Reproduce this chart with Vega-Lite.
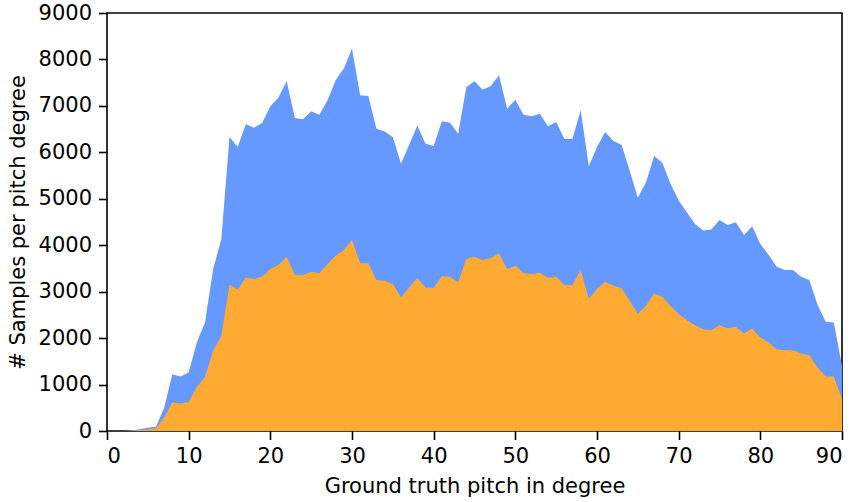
{
  "$schema": "https://vega.github.io/schema/vega-lite/v6.json",
  "autosize": "none",
  "width": 735,
  "height": 418,
  "padding": {"left": 107, "top": 13, "right": 18, "bottom": 71},
  "background": "white",
  "config": {
    "view": {"stroke": "black", "strokeWidth": 1.6},
    "font": "DejaVu Sans",
    "axis": {
      "grid": false,
      "domain": false,
      "tickColor": "black",
      "tickSize": 8.5,
      "tickWidth": 1.6,
      "labelColor": "black",
      "labelFont": "DejaVu Sans",
      "labelFontSize": 21,
      "titleFont": "DejaVu Sans",
      "titleFontSize": 21,
      "titleFontWeight": "normal",
      "titleColor": "black"
    }
  },
  "data": {
    "values": [
      {"pitch": 0, "total": 0, "subset": 0},
      {"pitch": 1, "total": 0, "subset": 0},
      {"pitch": 2, "total": 0, "subset": 0},
      {"pitch": 3, "total": 10, "subset": 5},
      {"pitch": 4, "total": 40, "subset": 15},
      {"pitch": 5, "total": 70, "subset": 30},
      {"pitch": 6, "total": 90, "subset": 60},
      {"pitch": 7, "total": 503, "subset": 288},
      {"pitch": 8, "total": 1222, "subset": 611},
      {"pitch": 9, "total": 1172, "subset": 590},
      {"pitch": 10, "total": 1258, "subset": 626},
      {"pitch": 11, "total": 1906, "subset": 949},
      {"pitch": 12, "total": 2337, "subset": 1165},
      {"pitch": 13, "total": 3488, "subset": 1726},
      {"pitch": 14, "total": 4135, "subset": 2050},
      {"pitch": 15, "total": 6328, "subset": 3150},
      {"pitch": 16, "total": 6113, "subset": 3049},
      {"pitch": 17, "total": 6602, "subset": 3301},
      {"pitch": 18, "total": 6530, "subset": 3272},
      {"pitch": 19, "total": 6630, "subset": 3322},
      {"pitch": 20, "total": 6990, "subset": 3488},
      {"pitch": 21, "total": 7178, "subset": 3574},
      {"pitch": 22, "total": 7537, "subset": 3754},
      {"pitch": 23, "total": 6738, "subset": 3365},
      {"pitch": 24, "total": 6710, "subset": 3358},
      {"pitch": 25, "total": 6883, "subset": 3430},
      {"pitch": 26, "total": 6810, "subset": 3394},
      {"pitch": 27, "total": 7120, "subset": 3596},
      {"pitch": 28, "total": 7550, "subset": 3776},
      {"pitch": 29, "total": 7804, "subset": 3898},
      {"pitch": 30, "total": 8235, "subset": 4113},
      {"pitch": 31, "total": 7228, "subset": 3610},
      {"pitch": 32, "total": 7214, "subset": 3610},
      {"pitch": 33, "total": 6508, "subset": 3250},
      {"pitch": 34, "total": 6450, "subset": 3236},
      {"pitch": 35, "total": 6328, "subset": 3164},
      {"pitch": 36, "total": 5753, "subset": 2876},
      {"pitch": 37, "total": 6163, "subset": 3092},
      {"pitch": 38, "total": 6580, "subset": 3293},
      {"pitch": 39, "total": 6185, "subset": 3092},
      {"pitch": 40, "total": 6134, "subset": 3078},
      {"pitch": 41, "total": 6667, "subset": 3337},
      {"pitch": 42, "total": 6638, "subset": 3322},
      {"pitch": 43, "total": 6400, "subset": 3200},
      {"pitch": 44, "total": 7407, "subset": 3704},
      {"pitch": 45, "total": 7529, "subset": 3754},
      {"pitch": 46, "total": 7350, "subset": 3682},
      {"pitch": 47, "total": 7430, "subset": 3726},
      {"pitch": 48, "total": 7660, "subset": 3826},
      {"pitch": 49, "total": 6940, "subset": 3481},
      {"pitch": 50, "total": 7134, "subset": 3560},
      {"pitch": 51, "total": 6810, "subset": 3402},
      {"pitch": 52, "total": 6775, "subset": 3380},
      {"pitch": 53, "total": 6833, "subset": 3409},
      {"pitch": 54, "total": 6559, "subset": 3293},
      {"pitch": 55, "total": 6652, "subset": 3322},
      {"pitch": 56, "total": 6293, "subset": 3143},
      {"pitch": 57, "total": 6293, "subset": 3143},
      {"pitch": 58, "total": 6904, "subset": 3466},
      {"pitch": 59, "total": 5700, "subset": 2850},
      {"pitch": 60, "total": 6113, "subset": 3056},
      {"pitch": 61, "total": 6436, "subset": 3215},
      {"pitch": 62, "total": 6243, "subset": 3128},
      {"pitch": 63, "total": 6163, "subset": 3078},
      {"pitch": 64, "total": 5610, "subset": 2805},
      {"pitch": 65, "total": 5020, "subset": 2517},
      {"pitch": 66, "total": 5358, "subset": 2697},
      {"pitch": 67, "total": 5919, "subset": 2963},
      {"pitch": 68, "total": 5775, "subset": 2891},
      {"pitch": 69, "total": 5322, "subset": 2697},
      {"pitch": 70, "total": 4962, "subset": 2517},
      {"pitch": 71, "total": 4711, "subset": 2387},
      {"pitch": 72, "total": 4459, "subset": 2279},
      {"pitch": 73, "total": 4315, "subset": 2193},
      {"pitch": 74, "total": 4337, "subset": 2171},
      {"pitch": 75, "total": 4545, "subset": 2279},
      {"pitch": 76, "total": 4437, "subset": 2214},
      {"pitch": 77, "total": 4494, "subset": 2243},
      {"pitch": 78, "total": 4221, "subset": 2099},
      {"pitch": 79, "total": 4409, "subset": 2207},
      {"pitch": 80, "total": 4027, "subset": 2013},
      {"pitch": 81, "total": 3797, "subset": 1906},
      {"pitch": 82, "total": 3538, "subset": 1762},
      {"pitch": 83, "total": 3466, "subset": 1740},
      {"pitch": 84, "total": 3466, "subset": 1740},
      {"pitch": 85, "total": 3322, "subset": 1668},
      {"pitch": 86, "total": 3250, "subset": 1632},
      {"pitch": 87, "total": 2718, "subset": 1366},
      {"pitch": 88, "total": 2351, "subset": 1172},
      {"pitch": 89, "total": 2337, "subset": 1172},
      {"pitch": 90, "total": 1402, "subset": 683}
    ]
  },
  "encoding": {
    "x": {
      "field": "pitch",
      "type": "quantitative",
      "scale": {"domain": [0, 90], "nice": false, "zero": false},
      "axis": {"values": [0, 10, 20, 30, 40, 50, 60, 70, 80, 90], "title": "Ground truth pitch in degree", "labelPadding": 6, "titlePadding": 9}
    }
  },
  "layer": [
    {
      "mark": {"type": "area", "color": "#6699ff", "interpolate": "linear", "clip": true},
      "encoding": {
        "y": {
          "field": "total",
          "type": "quantitative",
          "stack": null,
          "scale": {"domain": [0, 9000], "nice": false},
          "axis": {"values": [0, 1000, 2000, 3000, 4000, 5000, 6000, 7000, 8000, 9000], "title": "# Samples per pitch degree", "labelPadding": 7, "titlePadding": 10, "format": "d"}
        }
      }
    },
    {
      "mark": {"type": "area", "color": "#ffaa33", "interpolate": "linear", "clip": true},
      "encoding": {
        "y": {"field": "subset", "type": "quantitative", "stack": null}
      }
    }
  ]
}
